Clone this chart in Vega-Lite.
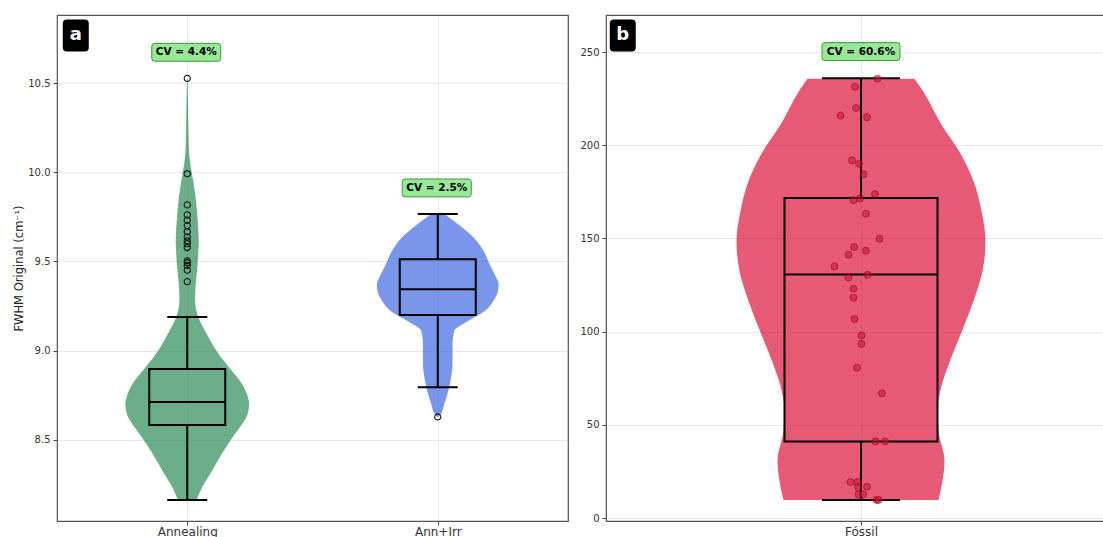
{
  "$schema": "https://vega.github.io/schema/vega-lite/v6.json",
  "padding": {"left": 12, "top": 14, "right": 0, "bottom": 0},
  "spacing": 10,
  "background": "white",
  "datasets": {
    "violA": [
      {"g":"Annealing","v":10.525,"lo":-0.001,"hi":0.001},
      {"g":"Annealing","v":10.40,"lo":-0.003,"hi":0.003},
      {"g":"Annealing","v":10.23,"lo":-0.005,"hi":0.005},
      {"g":"Annealing","v":10.12,"lo":-0.007,"hi":0.007},
      {"g":"Annealing","v":10.06,"lo":-0.011,"hi":0.011},
      {"g":"Annealing","v":10.00,"lo":-0.018,"hi":0.018},
      {"g":"Annealing","v":9.934,"lo":-0.026,"hi":0.026},
      {"g":"Annealing","v":9.839,"lo":-0.035,"hi":0.035},
      {"g":"Annealing","v":9.727,"lo":-0.042,"hi":0.042},
      {"g":"Annealing","v":9.615,"lo":-0.046,"hi":0.046},
      {"g":"Annealing","v":9.542,"lo":-0.044,"hi":0.044},
      {"g":"Annealing","v":9.464,"lo":-0.040,"hi":0.040},
      {"g":"Annealing","v":9.391,"lo":-0.035,"hi":0.035},
      {"g":"Annealing","v":9.30,"lo":-0.031,"hi":0.031},
      {"g":"Annealing","v":9.25,"lo":-0.033,"hi":0.033},
      {"g":"Annealing","v":9.185,"lo":-0.045,"hi":0.045},
      {"g":"Annealing","v":9.094,"lo":-0.078,"hi":0.078},
      {"g":"Annealing","v":8.999,"lo":-0.117,"hi":0.117},
      {"g":"Annealing","v":8.905,"lo":-0.168,"hi":0.168},
      {"g":"Annealing","v":8.814,"lo":-0.219,"hi":0.219},
      {"g":"Annealing","v":8.75,"lo":-0.240,"hi":0.240},
      {"g":"Annealing","v":8.702,"lo":-0.247,"hi":0.247},
      {"g":"Annealing","v":8.65,"lo":-0.242,"hi":0.242},
      {"g":"Annealing","v":8.606,"lo":-0.227,"hi":0.227},
      {"g":"Annealing","v":8.513,"lo":-0.180,"hi":0.180},
      {"g":"Annealing","v":8.420,"lo":-0.137,"hi":0.137},
      {"g":"Annealing","v":8.325,"lo":-0.098,"hi":0.098},
      {"g":"Annealing","v":8.233,"lo":-0.059,"hi":0.059},
      {"g":"Annealing","v":8.164,"lo":-0.037,"hi":0.037},
      {"g":"Ann+Irr","v":9.766,"lo":0.975,"hi":1.025},
      {"g":"Ann+Irr","v":9.745,"lo":0.953,"hi":1.047},
      {"g":"Ann+Irr","v":9.708,"lo":0.919,"hi":1.081},
      {"g":"Ann+Irr","v":9.633,"lo":0.856,"hi":1.144},
      {"g":"Ann+Irr","v":9.559,"lo":0.817,"hi":1.183},
      {"g":"Ann+Irr","v":9.484,"lo":0.793,"hi":1.207},
      {"g":"Ann+Irr","v":9.42,"lo":0.770,"hi":1.230},
      {"g":"Ann+Irr","v":9.372,"lo":0.757,"hi":1.243},
      {"g":"Ann+Irr","v":9.33,"lo":0.760,"hi":1.240},
      {"g":"Ann+Irr","v":9.279,"lo":0.778,"hi":1.222},
      {"g":"Ann+Irr","v":9.223,"lo":0.812,"hi":1.188},
      {"g":"Ann+Irr","v":9.167,"lo":0.879,"hi":1.121},
      {"g":"Ann+Irr","v":9.111,"lo":0.934,"hi":1.066},
      {"g":"Ann+Irr","v":9.036,"lo":0.941,"hi":1.059},
      {"g":"Ann+Irr","v":8.924,"lo":0.941,"hi":1.059},
      {"g":"Ann+Irr","v":8.849,"lo":0.947,"hi":1.053},
      {"g":"Ann+Irr","v":8.775,"lo":0.958,"hi":1.042},
      {"g":"Ann+Irr","v":8.701,"lo":0.974,"hi":1.026},
      {"g":"Ann+Irr","v":8.644,"lo":0.988,"hi":1.012},
      {"g":"Ann+Irr","v":8.629,"lo":0.998,"hi":1.002}
    ],
    "violB": [
      {"g":"Fóssil","v":235.7,"lo":-0.107,"hi":0.107},
      {"g":"Fóssil","v":229.1,"lo":-0.124,"hi":0.124},
      {"g":"Fóssil","v":221.0,"lo":-0.141,"hi":0.141},
      {"g":"Fóssil","v":212.4,"lo":-0.158,"hi":0.158},
      {"g":"Fóssil","v":196.9,"lo":-0.196,"hi":0.196},
      {"g":"Fóssil","v":180.8,"lo":-0.225,"hi":0.225},
      {"g":"Fóssil","v":164.7,"lo":-0.241,"hi":0.241},
      {"g":"Fóssil","v":148.6,"lo":-0.249,"hi":0.249},
      {"g":"Fóssil","v":132.5,"lo":-0.243,"hi":0.243},
      {"g":"Fóssil","v":116.4,"lo":-0.225,"hi":0.225},
      {"g":"Fóssil","v":100.3,"lo":-0.202,"hi":0.202},
      {"g":"Fóssil","v":84.2,"lo":-0.178,"hi":0.178},
      {"g":"Fóssil","v":70.8,"lo":-0.161,"hi":0.161},
      {"g":"Fóssil","v":57.4,"lo":-0.153,"hi":0.153},
      {"g":"Fóssil","v":46.7,"lo":-0.155,"hi":0.155},
      {"g":"Fóssil","v":30.6,"lo":-0.167,"hi":0.167},
      {"g":"Fóssil","v":19.8,"lo":-0.163,"hi":0.163},
      {"g":"Fóssil","v":9.7,"lo":-0.155,"hi":0.155}
    ],
    "statsA": [
      {"g":"Annealing","c":0,"min":8.164,"q1":8.584,"med":8.713,"q3":8.898,"max":9.189},
      {"g":"Ann+Irr","c":1,"min":8.795,"q1":9.200,"med":9.344,"q3":9.512,"max":9.766}
    ],
    "statsB": [
      {"g":"Fóssil","c":0,"min":9.66,"q1":41.1,"med":130.7,"q3":171.7,"max":235.9}
    ],
    "outA": [
      {"g":"Annealing","c":0,"v":10.526},
      {"g":"Annealing","c":0,"v":9.992},
      {"g":"Annealing","c":0,"v":9.817},
      {"g":"Annealing","c":0,"v":9.761},
      {"g":"Annealing","c":0,"v":9.731},
      {"g":"Annealing","c":0,"v":9.701},
      {"g":"Annealing","c":0,"v":9.667},
      {"g":"Annealing","c":0,"v":9.637},
      {"g":"Annealing","c":0,"v":9.616},
      {"g":"Annealing","c":0,"v":9.600},
      {"g":"Annealing","c":0,"v":9.578},
      {"g":"Annealing","c":0,"v":9.504},
      {"g":"Annealing","c":0,"v":9.493},
      {"g":"Annealing","c":0,"v":9.478},
      {"g":"Annealing","c":0,"v":9.451},
      {"g":"Annealing","c":0,"v":9.387},
      {"g":"Ann+Irr","c":1,"v":8.629}
    ],
    "ptsB": [
      {"v":235.7,"jx":0.033},{"v":231.4,"jx":-0.012},{"v":220.0,"jx":-0.010},{"v":216.0,"jx":-0.041},
      {"v":215.1,"jx":0.012},{"v":191.9,"jx":-0.018},{"v":190.1,"jx":-0.004},{"v":184.4,"jx":0.005},
      {"v":173.7,"jx":0.028},{"v":170.6,"jx":-0.015},{"v":171.5,"jx":-0.002},{"v":163.3,"jx":0.010},
      {"v":149.8,"jx":0.037},{"v":145.4,"jx":-0.014},{"v":143.4,"jx":0.010},{"v":141.3,"jx":-0.025},
      {"v":135.0,"jx":-0.053},{"v":129.1,"jx":-0.025},{"v":130.5,"jx":0.013},{"v":123.0,"jx":-0.015},
      {"v":118.2,"jx":-0.015},{"v":106.8,"jx":-0.013},{"v":98.0,"jx":0.001},{"v":93.5,"jx":0.001},
      {"v":80.6,"jx":-0.008},{"v":66.9,"jx":0.042},{"v":41.1,"jx":0.029},{"v":41.1,"jx":0.048},
      {"v":19.3,"jx":-0.021},{"v":19.3,"jx":-0.007},{"v":16.6,"jx":-0.006},{"v":16.8,"jx":0.012},
      {"v":12.7,"jx":-0.005},{"v":12.7,"jx":0.004},{"v":9.7,"jx":0.031},{"v":9.7,"jx":0.035}
    ],
    "cvA": [
      {"c":-0.004,"v":10.672,"t":"CV = 4.4%"},
      {"c":0.996,"v":9.912,"t":"CV = 2.5%"}
    ],
    "cvB": [
      {"c":0.0,"v":250.27,"t":"CV = 60.6%"}
    ],
    "badA": [{"c":-0.445,"v":10.766,"t":"a"}],
    "badB": [{"c":-0.4765,"v":258.85,"t":"b"}]
  },
  "hconcat": [
    {
      "width": 511,
      "height": 506,
      "layer": [
        {
          "data": {"name": "violA"},
          "mark": {"type": "area", "orient": "horizontal", "opacity": 0.7, "interpolate": "monotone"},
          "encoding": {
            "y": {"field": "v", "type": "quantitative",
                  "scale": {"domain": [8.046, 10.881], "nice": false, "zero": false},
                  "axis": {"values": [8.5, 9, 9.5, 10, 10.5], "format": ".1f", "title": "FWHM Original (cm⁻¹)", "titlePadding": 3.5}},
            "x": {"field": "lo", "type": "quantitative",
                  "scale": {"domain": [-0.5, 1.5], "nice": false, "zero": false},
                  "axis": {"values": [0, 1], "labelExpr": "datum.value == 0 ? 'Annealing' : 'Ann+Irr'", "title": null, "labelFontSize": 12, "labelPadding": 1}},
            "x2": {"field": "hi"},
            "color": {"field": "g", "type": "nominal",
                      "scale": {"domain": ["Annealing", "Ann+Irr", "Fóssil"], "range": ["#2e8b57", "#4169e1", "#dc143c"]},
                      "legend": null}
          }
        },
        {
          "data": {"name": "statsA"},
          "mark": {"type": "rule", "color": "black", "strokeWidth": 2},
          "encoding": {"x": {"field": "c", "type": "quantitative"}, "y": {"field": "min", "type": "quantitative"}, "y2": {"field": "q1"}}
        },
        {
          "data": {"name": "statsA"},
          "mark": {"type": "rule", "color": "black", "strokeWidth": 2},
          "encoding": {"x": {"field": "c", "type": "quantitative"}, "y": {"field": "q3", "type": "quantitative"}, "y2": {"field": "max"}}
        },
        {
          "data": {"name": "statsA"},
          "mark": {"type": "bar", "width": 76, "fill": "white", "fillOpacity": 0, "stroke": "black", "strokeWidth": 2},
          "encoding": {"x": {"field": "c", "type": "quantitative"}, "y": {"field": "q1", "type": "quantitative"}, "y2": {"field": "q3"}}
        },
        {
          "data": {"name": "statsA"},
          "mark": {"type": "tick", "orient": "horizontal", "size": 76, "thickness": 2, "color": "black", "opacity": 1},
          "encoding": {"x": {"field": "c", "type": "quantitative"}, "y": {"field": "med", "type": "quantitative"}}
        },
        {
          "data": {"name": "statsA"},
          "mark": {"type": "tick", "orient": "horizontal", "size": 40, "thickness": 2, "color": "black", "opacity": 1},
          "encoding": {"x": {"field": "c", "type": "quantitative"}, "y": {"field": "min", "type": "quantitative"}}
        },
        {
          "data": {"name": "statsA"},
          "mark": {"type": "tick", "orient": "horizontal", "size": 40, "thickness": 2, "color": "black", "opacity": 1},
          "encoding": {"x": {"field": "c", "type": "quantitative"}, "y": {"field": "max", "type": "quantitative"}}
        },
        {
          "data": {"name": "outA"},
          "mark": {"type": "point", "filled": false, "stroke": "#111", "strokeWidth": 1.1, "size": 38, "opacity": 1},
          "encoding": {"x": {"field": "c", "type": "quantitative"}, "y": {"field": "v", "type": "quantitative"}}
        },
        {
          "data": {"name": "cvA"},
          "mark": {"type": "point", "shape": "M-0.913,-0.26H0.913Q1,-0.26 1,-0.173V0.173Q1,0.26 0.913,0.26H-0.913Q-1,0.26 -1,0.173V-0.173Q-1,-0.26 -0.913,-0.26Z", "size": 4761, "filled": true, "fill": "#98e898", "stroke": "#3c9a3c", "strokeWidth": 1, "opacity": 1},
          "encoding": {"x": {"field": "c", "type": "quantitative"}, "y": {"field": "v", "type": "quantitative"}}
        },
        {
          "data": {"name": "cvA"},
          "mark": {"type": "text", "font": "DejaVu Sans", "fontWeight": "bold", "fontSize": 10.5, "baseline": "middle", "align": "center", "color": "black"},
          "encoding": {"x": {"field": "c", "type": "quantitative"}, "y": {"field": "v", "type": "quantitative"}, "text": {"field": "t"}}
        },
        {
          "data": {"name": "badA"},
          "mark": {"type": "point", "shape": "M-0.5625,-1H0.5625Q0.8125,-1 0.8125,-0.75V0.75Q0.8125,1 0.5625,1H-0.5625Q-0.8125,1 -0.8125,0.75V-0.75Q-0.8125,-1 -0.5625,-1Z", "size": 1024, "filled": true, "fill": "black", "strokeWidth": 0, "opacity": 1},
          "encoding": {"x": {"field": "c", "type": "quantitative"}, "y": {"field": "v", "type": "quantitative"}}
        },
        {
          "data": {"name": "badA"},
          "mark": {"type": "text", "font": "DejaVu Sans", "fontWeight": "bold", "fontSize": 18, "baseline": "middle", "align": "center", "color": "white", "dy": -1},
          "encoding": {"x": {"field": "c", "type": "quantitative"}, "y": {"field": "v", "type": "quantitative"}, "text": {"field": "t"}}
        }
      ]
    },
    {
      "width": 510,
      "height": 506,
      "layer": [
        {
          "data": {"name": "violB"},
          "mark": {"type": "area", "orient": "horizontal", "opacity": 0.7, "interpolate": "monotone"},
          "encoding": {
            "y": {"field": "v", "type": "quantitative",
                  "scale": {"domain": [-1.6, 269.9], "nice": false, "zero": false},
                  "axis": {"values": [0, 50, 100, 150, 200, 250], "title": null}},
            "x": {"field": "lo", "type": "quantitative",
                  "scale": {"domain": [-0.5, 0.5], "nice": false, "zero": false},
                  "axis": {"values": [0], "labelExpr": "'Fóssil'", "title": null, "labelFontSize": 12, "labelPadding": 1}},
            "x2": {"field": "hi"},
            "color": {"field": "g", "type": "nominal",
                      "scale": {"domain": ["Annealing", "Ann+Irr", "Fóssil"], "range": ["#2e8b57", "#4169e1", "#dc143c"]},
                      "legend": null}
          }
        },
        {
          "data": {"name": "statsB"},
          "mark": {"type": "rule", "color": "black", "strokeWidth": 2},
          "encoding": {"x": {"field": "c", "type": "quantitative"}, "y": {"field": "min", "type": "quantitative"}, "y2": {"field": "q1"}}
        },
        {
          "data": {"name": "statsB"},
          "mark": {"type": "rule", "color": "black", "strokeWidth": 2},
          "encoding": {"x": {"field": "c", "type": "quantitative"}, "y": {"field": "q3", "type": "quantitative"}, "y2": {"field": "max"}}
        },
        {
          "data": {"name": "statsB"},
          "mark": {"type": "bar", "width": 153, "fill": "white", "fillOpacity": 0, "stroke": "black", "strokeWidth": 2},
          "encoding": {"x": {"field": "c", "type": "quantitative"}, "y": {"field": "q1", "type": "quantitative"}, "y2": {"field": "q3"}}
        },
        {
          "data": {"name": "statsB"},
          "mark": {"type": "tick", "orient": "horizontal", "size": 153, "thickness": 2, "color": "black", "opacity": 1},
          "encoding": {"x": {"field": "c", "type": "quantitative"}, "y": {"field": "med", "type": "quantitative"}}
        },
        {
          "data": {"name": "statsB"},
          "mark": {"type": "tick", "orient": "horizontal", "size": 78, "thickness": 2, "color": "black", "opacity": 1},
          "encoding": {"x": {"field": "c", "type": "quantitative"}, "y": {"field": "min", "type": "quantitative"}}
        },
        {
          "data": {"name": "statsB"},
          "mark": {"type": "tick", "orient": "horizontal", "size": 78, "thickness": 2, "color": "black", "opacity": 1},
          "encoding": {"x": {"field": "c", "type": "quantitative"}, "y": {"field": "max", "type": "quantitative"}}
        },
        {
          "data": {"name": "ptsB"},
          "mark": {"type": "point", "filled": true, "fill": "#c8143c", "fillOpacity": 0.6, "stroke": "#8b0000", "strokeOpacity": 0.6, "strokeWidth": 0.8, "size": 50},
          "encoding": {"x": {"field": "jx", "type": "quantitative"}, "y": {"field": "v", "type": "quantitative"}}
        },
        {
          "data": {"name": "cvB"},
          "mark": {"type": "point", "shape": "M-0.923,-0.23H0.923Q1,-0.23 1,-0.153V0.153Q1,0.23 0.923,0.23H-0.923Q-1,0.23 -1,0.153V-0.153Q-1,-0.23 -0.923,-0.23Z", "size": 6084, "filled": true, "fill": "#98e898", "stroke": "#3c9a3c", "strokeWidth": 1, "opacity": 1},
          "encoding": {"x": {"field": "c", "type": "quantitative"}, "y": {"field": "v", "type": "quantitative"}}
        },
        {
          "data": {"name": "cvB"},
          "mark": {"type": "text", "font": "DejaVu Sans", "fontWeight": "bold", "fontSize": 10.5, "baseline": "middle", "align": "center", "color": "black"},
          "encoding": {"x": {"field": "c", "type": "quantitative"}, "y": {"field": "v", "type": "quantitative"}, "text": {"field": "t"}}
        },
        {
          "data": {"name": "badB"},
          "mark": {"type": "point", "shape": "M-0.5625,-1H0.5625Q0.8125,-1 0.8125,-0.75V0.75Q0.8125,1 0.5625,1H-0.5625Q-0.8125,1 -0.8125,0.75V-0.75Q-0.8125,-1 -0.5625,-1Z", "size": 1024, "filled": true, "fill": "black", "strokeWidth": 0, "opacity": 1},
          "encoding": {"x": {"field": "c", "type": "quantitative"}, "y": {"field": "v", "type": "quantitative"}}
        },
        {
          "data": {"name": "badB"},
          "mark": {"type": "text", "font": "DejaVu Sans", "fontWeight": "bold", "fontSize": 18, "baseline": "middle", "align": "center", "color": "white", "dy": -1},
          "encoding": {"x": {"field": "c", "type": "quantitative"}, "y": {"field": "v", "type": "quantitative"}, "text": {"field": "t"}}
        }
      ]
    }
  ],
  "config": {
    "font": "DejaVu Sans",
    "view": {"stroke": "#555", "strokeWidth": 1.2},
    "axis": {
      "domain": false,
      "grid": true,
      "gridColor": "#b0b0b0",
      "gridOpacity": 0.3,
      "gridWidth": 1,
      "tickColor": "#444",
      "tickSize": 4,
      "tickWidth": 1,
      "labelFont": "DejaVu Sans",
      "labelFontSize": 10,
      "labelColor": "#333",
      "labelPadding": 3,
      "titleFont": "DejaVu Sans",
      "titleFontSize": 11.5,
      "titleFontWeight": "normal",
      "titleColor": "#222",
      "zindex": 1
    }
  }
}
